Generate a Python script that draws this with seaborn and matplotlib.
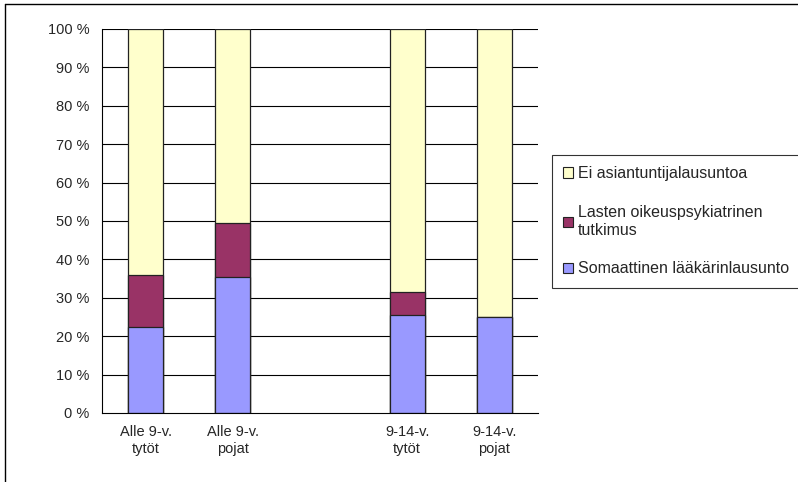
import numpy as np
import pandas as pd
import matplotlib.pyplot as plt
import seaborn as sns
from matplotlib.lines import Line2D
from matplotlib.patches import Patch

# data (percent)
categories = ['Alle 9-v.\ntytöt', 'Alle 9-v.\npojat', ' ', '9-14-v.\ntytöt', '9-14-v.\npojat']
somaattinen = [22.3, 35.3, np.nan, 25.6, 25.1]
oikeuspsyk = [13.6, 14.2, np.nan, 5.9, 0.0]
ei_lausuntoa = [64.1, 50.5, np.nan, 68.5, 74.9]

series_names = ['Ei asiantuntijalausuntoa',
                'Lasten oikeuspsykiatrinen\ntutkimus',
                'Somaattinen lääkärinlausunto']
colors = ['#FFFFCC', '#993366', '#9999FF']


def main():
    sns.set_style('white')
    plt.rcParams['font.family'] = ['Liberation Sans', 'DejaVu Sans']

    df = pd.DataFrame({'cat': categories,
                       'soma': somaattinen,
                       'psyk': oikeuspsyk,
                       'ei': ei_lausuntoa})
    df['c1'] = df['soma']
    df['c2'] = df['soma'] + df['psyk']
    df['c3'] = df['c2'] + df['ei']

    fig = plt.figure(figsize=(7.98, 4.82), dpi=100)
    ax = fig.add_axes([102 / 798, 69 / 482, 436 / 798, 384 / 482])

    # horizontal grid lines behind bars
    for v in range(10, 101, 10):
        ax.axhline(v, color='black', lw=0.8, zorder=0)

    for col, c in zip(['c3', 'c2', 'c1'], colors):
        sns.barplot(data=df, x='cat', y=col, order=categories, color=c,
                    width=0.40, saturation=1, edgecolor='#222222',
                    linewidth=0.9, ax=ax, zorder=2)

    ax.set_ylim(0, 100)
    ax.set_xlim(-0.5, len(categories) - 0.5)
    ax.set_yticks(range(0, 101, 10))
    ax.set_yticklabels([f'{v} %' for v in range(0, 101, 10)], fontsize=10.5)
    ax.set_xticks(range(len(categories)))
    ax.set_xticklabels(categories, fontsize=10.5)
    ax.set_xticks(np.arange(-0.5, len(categories), 1), minor=True)
    ax.tick_params(axis='x', which='major', length=0, pad=9)
    ax.tick_params(axis='x', which='minor', length=5, width=0.8,
                   direction='out', color='black')
    ax.tick_params(axis='y', length=6, width=0.8, direction='out',
                   color='black', pad=3)
    ax.set_xlabel('')
    ax.set_ylabel('')
    for s in ['top', 'right']:
        ax.spines[s].set_visible(False)
    for s in ['left', 'bottom']:
        ax.spines[s].set_color('black')
        ax.spines[s].set_linewidth(0.8)

    handles = [Patch(facecolor=c, edgecolor='#222222', linewidth=0.8)
               for c in colors]
    leg = fig.legend(handles, series_names, loc='upper left',
                     bbox_to_anchor=(552 / 798, 1 - 155 / 482),
                     fontsize=11.5, frameon=True, fancybox=False,
                     edgecolor='black', labelspacing=1.5,
                     handlelength=0.6, handleheight=0.6, handletextpad=0.3,
                     borderpad=0.7, borderaxespad=0)
    leg.get_frame().set_linewidth(0.8)

    # outer chart border (only top and left visible in the reference)
    fig.add_artist(Line2D([5 / 798, 1], [1 - 4 / 482, 1 - 4 / 482],
                          transform=fig.transFigure, color='black', lw=1.0))
    fig.add_artist(Line2D([5 / 798, 5 / 798], [0, 1 - 4 / 482],
                          transform=fig.transFigure, color='black', lw=1.0))

    fig.savefig('out.png', dpi=100)


if __name__ == "__main__":
    main()
